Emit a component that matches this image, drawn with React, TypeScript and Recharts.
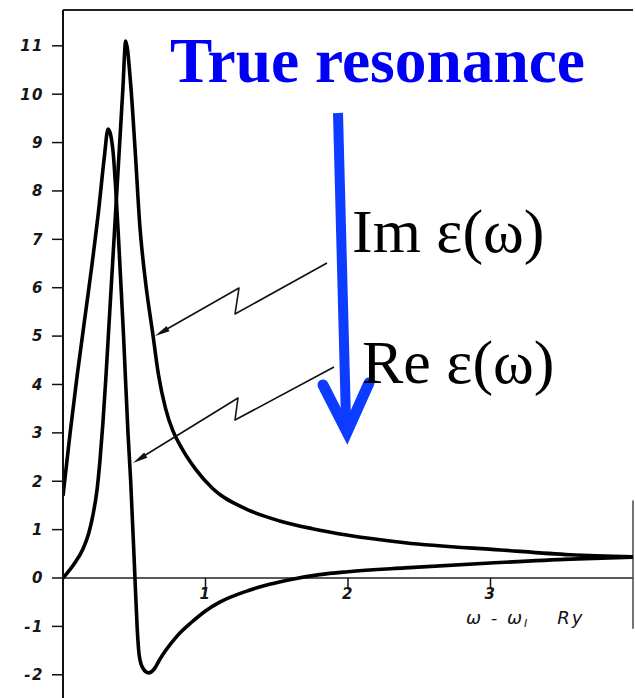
import React from "react";
import { LineChart, Line, XAxis, YAxis, ReferenceLine } from "recharts";

// ω - ω_I in Ry
const imX = [0, 0.08, 0.14, 0.18, 0.21, 0.24, 0.26, 0.28, 0.3, 0.32, 0.34, 0.36, 0.38, 0.4, 0.42, 0.44, 0.475, 0.505, 0.54, 0.58, 0.63, 0.67, 0.72, 0.77, 0.83, 0.93, 1.05, 1.29, 1.52, 1.75, 1.99, 2.4, 3.07, 3.56, 4.0];
const imY = [0, 0.3, 0.6, 0.92, 1.3, 1.85, 2.45, 3.2, 4.1, 5.1, 6.1, 7.1, 8.1, 9.1, 10.1, 11.1, 10.2, 8.9, 7.25, 6.1, 5.05, 4.2, 3.5, 3.05, 2.7, 2.25, 1.85, 1.42, 1.18, 1.02, 0.89, 0.73, 0.58, 0.48, 0.44];

const reX = [0, 0.05, 0.1, 0.15, 0.2, 0.25, 0.29, 0.316, 0.335, 0.35, 0.39, 0.425, 0.456, 0.475, 0.505, 0.52, 0.535, 0.56, 0.6, 0.64, 0.68, 0.72, 0.8, 0.9, 1.0, 1.1, 1.29, 1.45, 1.6, 1.8, 2.0, 2.4, 3.0, 3.56, 4.0];
const reY = [1.7, 3.0, 4.2, 5.3, 6.4, 7.6, 8.7, 9.28, 9.15, 8.85, 7.0, 5.0, 3.0, 2.0, 0, -1.0, -1.6, -1.86, -1.96, -1.88, -1.68, -1.5, -1.2, -0.92, -0.68, -0.5, -0.27, -0.13, -0.03, 0.07, 0.13, 0.21, 0.31, 0.39, 0.43];

const xTicks = [1, 2, 3];
const yTicks = [-2, -1, 0, 1, 2, 3, 4, 5, 6, 7, 8, 9, 10, 11];

const X_DOMAIN: [number, number] = [0, 4];
const Y_DOMAIN: [number, number] = [-2.48, 11.74];

const imData = imX.map((x, i) => ({ x, y: imY[i] }));
const reData = reX.map((x, i) => ({ x, y: reY[i] }));

const handTick = {
  fontFamily: "DejaVu Sans",
  fontStyle: "italic",
  fontWeight: 700,
  fontSize: 15,
  letterSpacing: 1.5,
  fill: "#161616",
};

// small filled arrowhead at (tx, ty), pointing away from (fx, fy)
function head(tx: number, ty: number, fx: number, fy: number, len = 15, half = 3) {
  const dx = tx - fx;
  const dy = ty - fy;
  const d = Math.hypot(dx, dy);
  const ux = dx / d;
  const uy = dy / d;
  const bx = tx - ux * len;
  const by = ty - uy * len;
  return `${tx},${ty} ${bx - uy * half},${by + ux * half} ${bx + uy * half},${by - ux * half}`;
}

function Annotations() {
  return (
    <svg width={635} height={698} style={{ position: "absolute", left: 0, top: 0, pointerEvents: "none" }}>
      <text x={170} y={82} fontFamily="Liberation Serif" fontWeight={700} fontSize={63} fill="#0000f6" textLength={415} lengthAdjust="spacingAndGlyphs">
        True resonance
      </text>

      {/* zigzag leaders */}
      <g stroke="#111" strokeWidth={1.6} fill="none" strokeLinejoin="round">
        <polyline points="327,263 235,314 239,288 160,333" />
        <polyline points="334,367 235,420 238,398 139,459" />
      </g>
      <polygon points={head(155, 336, 239, 288)} fill="#111" />
      <polygon points={head(133, 463, 238, 398)} fill="#111" />

      {/* blue arrow */}
      <g stroke="#0b3cff" fill="none">
        <line x1={338} y1={113} x2={346} y2={420} strokeWidth={10} />
        <polyline points="323,385 347,432 369,383" strokeWidth={11} strokeLinecap="round" strokeLinejoin="miter" />
      </g>

      <text x={352} y={252} fontFamily="Liberation Serif" fontSize={62} fill="#000">
        Im ε(ω)
      </text>
      <text x={362} y={383} fontFamily="Liberation Serif" fontSize={62} fill="#000">
        Re ε(ω)
      </text>

      <text x={466} y={624} fontFamily="DejaVu Sans" fontStyle="italic" fontSize={18} fill="#111" letterSpacing={2}>
        ω - ω<tspan fontSize={11} dy={3}>I</tspan>
        <tspan dy={-3} dx={28}>Ry</tspan>
      </text>
    </svg>
  );
}

export default function App() {
  return (
    <div style={{ position: "fixed", left: 0, top: 0, width: 635, height: 698, background: "#fff" }}>
      <LineChart width={635} height={698} margin={{ top: 10, right: 2, bottom: 0, left: 0 }}>
        <XAxis type="number" dataKey="x" domain={X_DOMAIN} hide allowDataOverflow />
        <YAxis
          type="number"
          domain={Y_DOMAIN}
          ticks={yTicks}
          interval={0}
          allowDataOverflow
          width={63}
          tickSize={11}
          tickMargin={8}
          axisLine={{ stroke: "#111", strokeWidth: 2 }}
          tickLine={{ stroke: "#111", strokeWidth: 1.5 }}
          tick={handTick}
        />
        <ReferenceLine y={Y_DOMAIN[1]} stroke="#222" strokeWidth={2} ifOverflow="visible" />
        <ReferenceLine y={0} stroke="#222" strokeWidth={1.5} ifOverflow="visible" />
        <ReferenceLine
          segment={[{ x: X_DOMAIN[1], y: -1.05 }, { x: X_DOMAIN[1], y: 1.6 }]}
          stroke="#444"
          strokeWidth={1.5}
          ifOverflow="visible"
        />
        {xTicks.map((t) => (
          <ReferenceLine
            key={t}
            segment={[{ x: t, y: 0 }, { x: t, y: -0.22 }]}
            stroke="#111"
            strokeWidth={1.5}
            ifOverflow="visible"
            label={{ value: String(t), position: "bottom", offset: 0, ...handTick }}
          />
        ))}
        <Line data={imData} dataKey="y" type="monotone" stroke="#000" strokeWidth={3.6} dot={false} isAnimationActive={false} strokeLinejoin="round" />
        <Line data={reData} dataKey="y" type="monotone" stroke="#000" strokeWidth={3.6} dot={false} isAnimationActive={false} strokeLinejoin="round" />
      </LineChart>
      <Annotations />
    </div>
  );
}
